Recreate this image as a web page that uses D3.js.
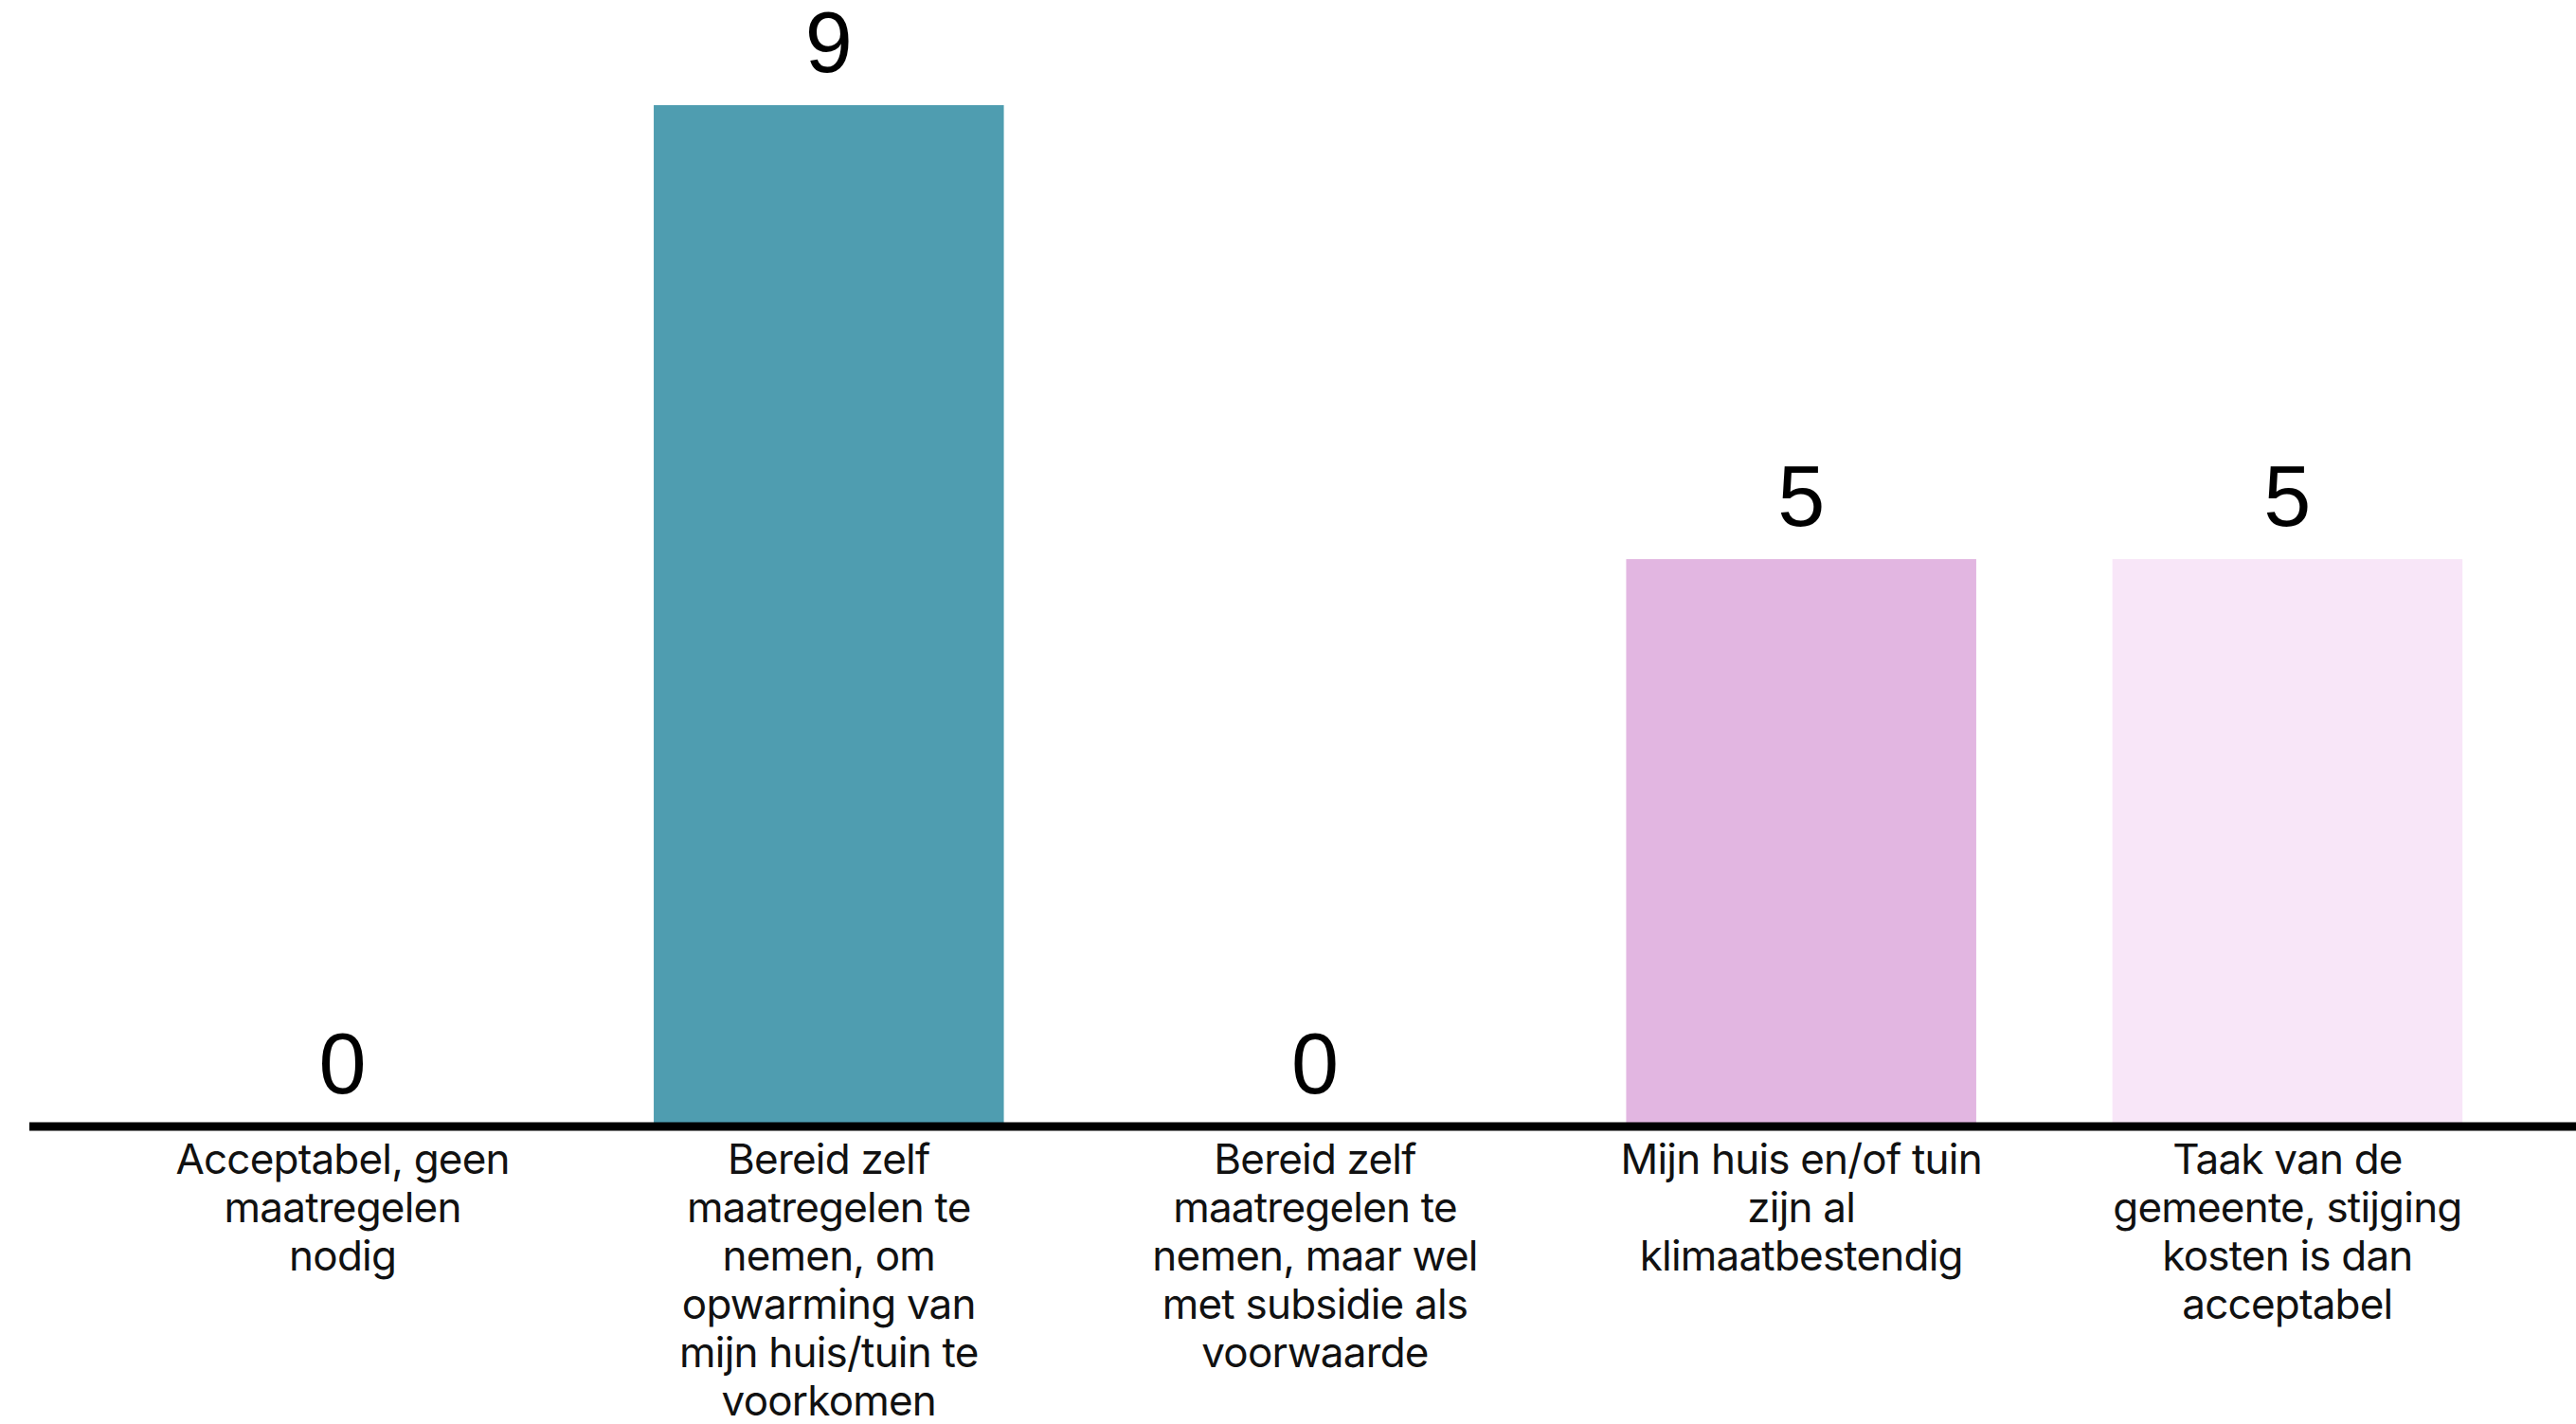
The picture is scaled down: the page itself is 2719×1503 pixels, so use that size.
<!DOCTYPE html>
<html><head><meta charset="utf-8">
<script src="https://cdn.jsdelivr.net/npm/d3@7"></script>
<style>html,body{margin:0;padding:0;background:#fff;}</style>
</head><body>
<script>
const categories = [
  "Acceptabel, geen\nmaatregelen\nnodig",
  "Bereid zelf\nmaatregelen te\nnemen, om\nopwarming van\nmijn huis/tuin te\nvoorkomen",
  "Bereid zelf\nmaatregelen te\nnemen, maar wel\nmet subsidie als\nvoorwaarde",
  "Mijn huis en/of tuin\nzijn al\nklimaatbestendig",
  "Taak van de\ngemeente, stijging\nkosten is dan\nacceptabel"
];
const values = [0, 9, 0, 5, 5];
const colors = ["#4f9db0", "#4f9db0", "#4f9db0", "#e2b6e1", "#f8e6f8"];

const W = 2719, H = 1503;
const svg = d3.select("body").append("svg").attr("width", W).attr("height", H);

const x = d3.scaleBand().domain(d3.range(categories.length))
  .range([105, 2671]).paddingInner(0.28).paddingOuter(0.14);
const axisY = 1189;
const y = d3.scaleLinear().domain([0, 9]).range([axisY, 111]);

svg.selectAll("rect.bar").data(values).join("rect")
  .attr("class", "bar")
  .attr("x", (d, i) => x(i))
  .attr("width", x.bandwidth())
  .attr("y", d => y(d))
  .attr("height", d => y(0) - y(d))
  .attr("fill", (d, i) => colors[i]);

svg.selectAll("text.val").data(values).join("text")
  .attr("class", "val")
  .attr("x", (d, i) => x(i) + x.bandwidth() / 2)
  .attr("y", d => y(d) - 35)
  .attr("text-anchor", "middle")
  .attr("font-family", "Liberation Sans, Arial, sans-serif")
  .attr("font-size", 90)
  .attr("fill", "#000")
  .text(d => d);

// axis line
const axis = d3.axisBottom(x).tickSize(0).tickFormat("");
const g = svg.append("g").attr("transform", `translate(0,${axisY})`).call(axis);
g.select(".domain").remove();
svg.append("line").attr("x1", 31).attr("x2", W).attr("y1", axisY).attr("y2", axisY)
  .attr("stroke", "#000").attr("stroke-width", 9);

// category labels
const lab = svg.selectAll("text.cat").data(categories).join("text")
  .attr("class", "cat")
  .attr("text-anchor", "middle")
  .attr("font-family", "Inter, Liberation Sans, sans-serif")
  .attr("font-size", 44)
  .attr("letter-spacing", -0.8)
  .attr("fill", "#111");
lab.each(function(d, i) {
  const t = d3.select(this);
  d.split("\n").forEach((line, k) => {
    t.append("tspan").attr("x", x(i) + x.bandwidth() / 2)
      .attr("y", 1239 + k * 51).text(line);
  });
});
</script>
</body></html>
